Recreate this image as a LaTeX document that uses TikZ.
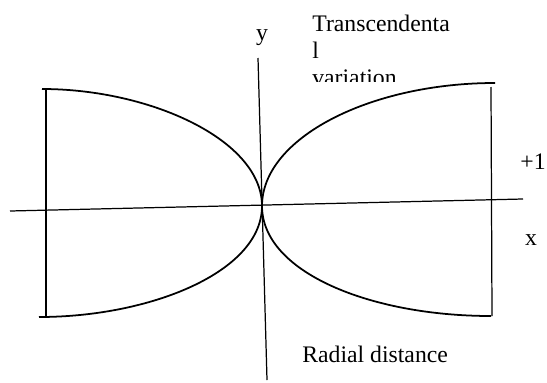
\documentclass[tikz,border=0pt]{standalone}
\usepackage{fontspec}
\setmainfont{Liberation Serif}
\usepackage{tikz}
\usetikzlibrary{positioning,calc}

\begin{document}
\begin{tikzpicture}[
    x=0.02cm, y=-0.02cm,
    ln/.style={line width=0.7pt},
    cv/.style={line width=1pt},
    txt/.style={inner sep=0pt, font=\fontsize{13.5}{15.3}\selectfont}
  ]
    \useasboundingbox (0,0) rectangle (547,382);

    % axes
    \coordinate (o) at (262,206);
    \coordinate (xl) at (10,211);
    \coordinate (xr) at (523,199);
    \coordinate (yt) at (258,58);
    \coordinate (yb) at (267,380);
    \draw[ln] (xl) -- (xr);
    \draw[ln] (yt) -- (yb);

    % curve ends
    \coordinate (lt) at (42,89);
    \coordinate (lb) at (39,317);
    \coordinate (rt) at (495,83);
    \coordinate (rb) at (491,316);

    \draw[cv] (o) .. controls (262,140) and (150,89) .. (lt);
    \draw[cv] (o) .. controls (262,272) and (150,317) .. (lb);
    \draw[cv] (o) .. controls (262,138) and (370,83) .. (rt);
    \draw[cv] (o) .. controls (262,272) and (370,316) .. (rb);

    % side lines
    \coordinate (lt2) at (46,90);
    \coordinate (lb2) at (46,316);
    \coordinate (rt2) at (491,87);
    \coordinate (rb2) at (492,316);
    \draw[ln] (lt2) -- (lb2);
    \draw[ln] (rt2) -- (rb2);

    % labels
    \node[txt, anchor=base] (ylab) at (262,40) {y};
    \node[txt, anchor=base] (one) at (533,169) {+1};
    \node[txt, anchor=base] (xlab) at (531,245) {x};
    \node[txt, anchor=base west] (rad) at (302,362) {Radial distance};
    \begin{scope}
      \clip (300,0) rectangle (470,81);
      \node[txt, anchor=north west, align=left] (tv) at (312,15)
        {Transcendenta\\l\\variation};
    \end{scope}
  \end{tikzpicture}
\end{document}
